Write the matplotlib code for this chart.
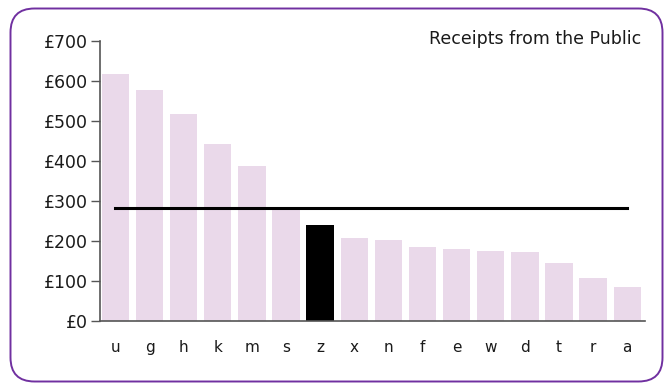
import matplotlib
matplotlib.use("Agg")
import matplotlib.pyplot as plt
from matplotlib.patches import FancyBboxPatch

categories = ["u", "g", "h", "k", "m", "s", "z", "x", "n", "f", "e", "w", "d", "t", "r", "a"]
receipts = [617, 577, 517, 442, 387, 281, 239, 207, 202, 184, 179, 174, 172, 144, 107, 84]
highlight = "z"
average = 283
y_ticks = [0, 100, 200, 300, 400, 500, 600, 700]
y_tick_labels = ["£0", "£100", "£200", "£300", "£400", "£500", "£600", "£700"]
title = "Receipts from the Public"

W, H = 666, 383
plt.rcParams["font.family"] = ["DejaVu Sans"]
fig = plt.figure(figsize=(W / 100, H / 100), dpi=100)

# background layer in pixel units holding the rounded purple frame
bg = fig.add_axes([0, 0, 1, 1], zorder=0)
bg.set_xlim(0, W)
bg.set_ylim(H, 0)
bg.axis("off")
bg.add_patch(FancyBboxPatch((10.5, 8.5), 652, 373,
                            boxstyle="round,pad=0,rounding_size=24",
                            facecolor="white", edgecolor="#7030A0",
                            linewidth=1.4))

ax = fig.add_axes([99.7 / W, 1 - 320.7 / H, (645 - 99.7) / W, (320.7 - 40.7) / H], zorder=1)
ax.set_facecolor("none")

x = list(range(len(categories)))
colors = ["black" if c == highlight else "#EAD9EA" for c in categories]
ax.bar(x, receipts, width=0.8, color=colors, zorder=2)
ax.plot([x[0], x[-1]], [average, average], color="black", linewidth=2.2, zorder=3)

ax.set_xlim(-0.46, len(categories) - 0.48)
ax.set_ylim(0, 700)
ax.set_yticks(y_ticks)
ax.set_yticklabels(y_tick_labels, fontsize=12.5, color="#1a1a1a")
ax.set_xticks(x)
ax.set_xticklabels(categories, fontsize=11, color="#1a1a1a")
ax.tick_params(axis="y", direction="out", length=6.5, width=1, color="#555555", pad=2)
ax.tick_params(axis="x", length=0, pad=14)

for side in ("top", "right"):
    ax.spines[side].set_visible(False)
for side in ("left", "bottom"):
    ax.spines[side].set_color("#555555")
    ax.spines[side].set_linewidth(1.2)

fig.text(641 / W, 1 - 39 / H, title, ha="right", va="center", fontsize=12.5,
         color="#1a1a1a", zorder=2)

fig.savefig("out.png", dpi=100)
